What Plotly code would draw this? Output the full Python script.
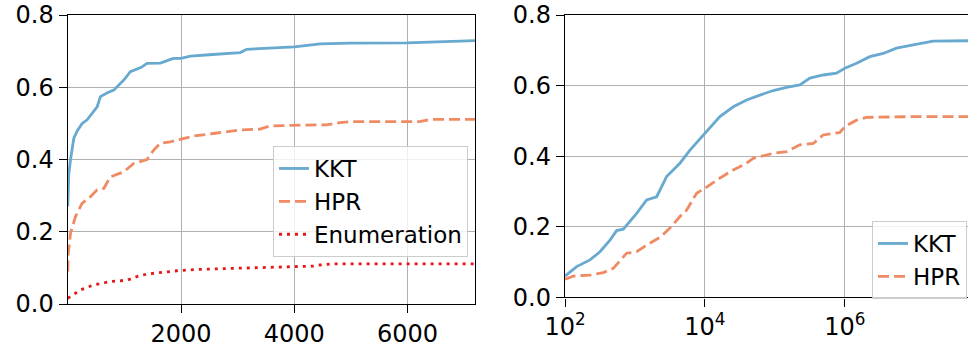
import plotly.graph_objects as go

# ---------------- data ----------------
left_kkt_x = [1, 20, 50, 108, 170, 255, 343, 460, 520, 578, 700, 813, 900, 990, 1106, 1165,
              1300, 1401, 1636, 1817, 1870, 2000, 2166, 2500, 2810, 3045, 3162, 3633, 4000,
              4458, 4987, 5985, 6450, 7200]
left_kkt_y = [0.27, 0.36, 0.40, 0.459, 0.48, 0.50, 0.51, 0.532, 0.546, 0.574, 0.585, 0.592,
              0.605, 0.620, 0.643, 0.646, 0.655, 0.666, 0.667, 0.677, 0.680, 0.680, 0.686,
              0.690, 0.694, 0.696, 0.705, 0.710, 0.712, 0.720, 0.722, 0.723, 0.726, 0.729]

left_hpr_x = [1, 10, 50, 138, 255, 402, 520, 637, 754, 990, 1165, 1400, 1518, 1636, 1812,
              2017, 2222, 2575, 3045, 3397, 3573, 4100, 4570, 4805, 5040, 6215, 6391, 7200]
left_hpr_y = [0.09, 0.14, 0.196, 0.242, 0.279, 0.297, 0.316, 0.32, 0.352, 0.366, 0.389, 0.40,
              0.426, 0.445, 0.449, 0.456, 0.465, 0.472, 0.482, 0.484, 0.493, 0.495, 0.496,
              0.502, 0.505, 0.505, 0.511, 0.511]

left_enum_x = [1, 227, 461, 754, 1048, 1224, 1400, 1636, 1930, 2341, 2928, 3515, 4100, 4340,
               4458, 4692, 7200]
left_enum_y = [0.016, 0.039, 0.053, 0.062, 0.066, 0.076, 0.083, 0.087, 0.092, 0.096, 0.099,
               0.101, 0.103, 0.105, 0.108, 0.111, 0.111]

right_kkt_log10x = [2.0, 2.167, 2.357, 2.5, 2.643, 2.738, 2.833, 3.024, 3.167, 3.31, 3.452,
                    3.643, 3.786, 4.0, 4.214, 4.405, 4.595, 4.786, 4.976, 5.167, 5.357, 5.5,
                    5.69, 5.88, 6.0, 6.167, 6.357, 6.548, 6.738, 6.976, 7.262, 7.76]
right_kkt_y = [0.060, 0.087, 0.106, 0.129, 0.162, 0.189, 0.193, 0.238, 0.276, 0.285, 0.342,
               0.380, 0.417, 0.465, 0.512, 0.540, 0.559, 0.573, 0.586, 0.595, 0.602, 0.621,
               0.630, 0.635, 0.649, 0.663, 0.682, 0.691, 0.706, 0.715, 0.726, 0.727]

right_hpr_log10x = [2.0, 2.119, 2.357, 2.548, 2.69, 2.881, 3.024, 3.167, 3.357, 3.5, 3.643,
                    3.738, 3.881, 4.0, 4.167, 4.405, 4.595, 4.69, 4.976, 5.167, 5.357, 5.548,
                    5.69, 5.929, 6.0, 6.167, 6.31, 6.976, 7.76]
right_hpr_y = [0.051, 0.060, 0.063, 0.070, 0.082, 0.125, 0.129, 0.148, 0.170, 0.196, 0.229,
               0.247, 0.295, 0.309, 0.332, 0.361, 0.380, 0.394, 0.408, 0.413, 0.432, 0.436,
               0.460, 0.467, 0.484, 0.502, 0.510, 0.512, 0.512]

left_xticks = [2000, 4000, 6000]
right_xtick_exps = [2, 4, 6]
yticks = [0.0, 0.2, 0.4, 0.6, 0.8]

# ---------------- styles ----------------
C_KKT = "#67a9cf"
C_HPR = "#ef8a62"
C_ENUM = "#e3191c"
FONT = "DejaVu Sans"
LW = 2.8

fig = go.Figure()

fig.add_trace(go.Scatter(x=left_kkt_x, y=left_kkt_y, mode="lines", name="KKT",
                         line=dict(color=C_KKT, width=LW), xaxis="x", yaxis="y",
                         legend="legend"))
fig.add_trace(go.Scatter(x=left_hpr_x, y=left_hpr_y, mode="lines", name="HPR",
                         line=dict(color=C_HPR, width=LW, dash="11px,5px"),
                         xaxis="x", yaxis="y", legend="legend"))
fig.add_trace(go.Scatter(x=left_enum_x, y=left_enum_y, mode="lines", name="Enumeration",
                         line=dict(color=C_ENUM, width=LW, dash="3px,5px"),
                         xaxis="x", yaxis="y", legend="legend"))

fig.add_trace(go.Scatter(x=[10 ** e for e in right_kkt_log10x], y=right_kkt_y, mode="lines",
                         name="KKT", line=dict(color=C_KKT, width=LW),
                         xaxis="x2", yaxis="y2", legend="legend2"))
fig.add_trace(go.Scatter(x=[10 ** e for e in right_hpr_log10x], y=right_hpr_y, mode="lines",
                         name="HPR", line=dict(color=C_HPR, width=LW, dash="11px,5px"),
                         xaxis="x2", yaxis="y2", legend="legend2"))

W, H = 968, 351
common_axis = dict(showline=True, linecolor="black", linewidth=1.4, automargin=False,
                   ticks="outside", ticklen=8, tickwidth=1.4, tickcolor="black",
                   showgrid=True, gridcolor="#b0b0b0", gridwidth=1,
                   zeroline=False, tickfont=dict(family=FONT, size=24, color="black"))

yaxis_common = dict(common_axis, range=[0, 0.8], tickvals=yticks,
                    ticktext=[f"{v:.1f}" for v in yticks])

fig.update_layout(
    width=W, height=H,
    margin=dict(l=0, r=0, t=0, b=0, autoexpand=False),
    paper_bgcolor="white", plot_bgcolor="white",
    font=dict(family=FONT, size=24, color="black"),
    xaxis=dict(common_axis, domain=[67.7 / W, 475 / W], range=[0, 7190],
               tickvals=left_xticks, ticktext=[str(v) for v in left_xticks],
               mirror=True, anchor="y"),
    yaxis=dict(yaxis_common, domain=[(H - 304) / H, (H - 15) / H], mirror=True, anchor="x"),
    xaxis2=dict(common_axis, type="log", domain=[565 / W, 1.0], range=[2, 7.76],
                tickvals=[10 ** e for e in right_xtick_exps],
                ticktext=[f"10<sup>{e}</sup>" for e in right_xtick_exps],
                mirror=True, anchor="y2"),
    yaxis2=dict(yaxis_common, domain=[(H - 297.3) / H, (H - 15) / H], anchor="x2"),
    showlegend=True,
    legend=dict(x=468 / W, y=1 - 146 / H, xanchor="right", yanchor="top",
                bgcolor="rgba(255,255,255,0.8)", bordercolor="#cccccc", borderwidth=1,
                font=dict(family=FONT, size=23, color="black"), tracegroupgap=0),
    legend2=dict(x=967 / W, y=1 - 221 / H, xanchor="right", yanchor="top",
                 bgcolor="rgba(255,255,255,0.8)", bordercolor="#cccccc", borderwidth=1,
                 font=dict(family=FONT, size=23, color="black"), tracegroupgap=0),
)

fig.write_html("out.html")
